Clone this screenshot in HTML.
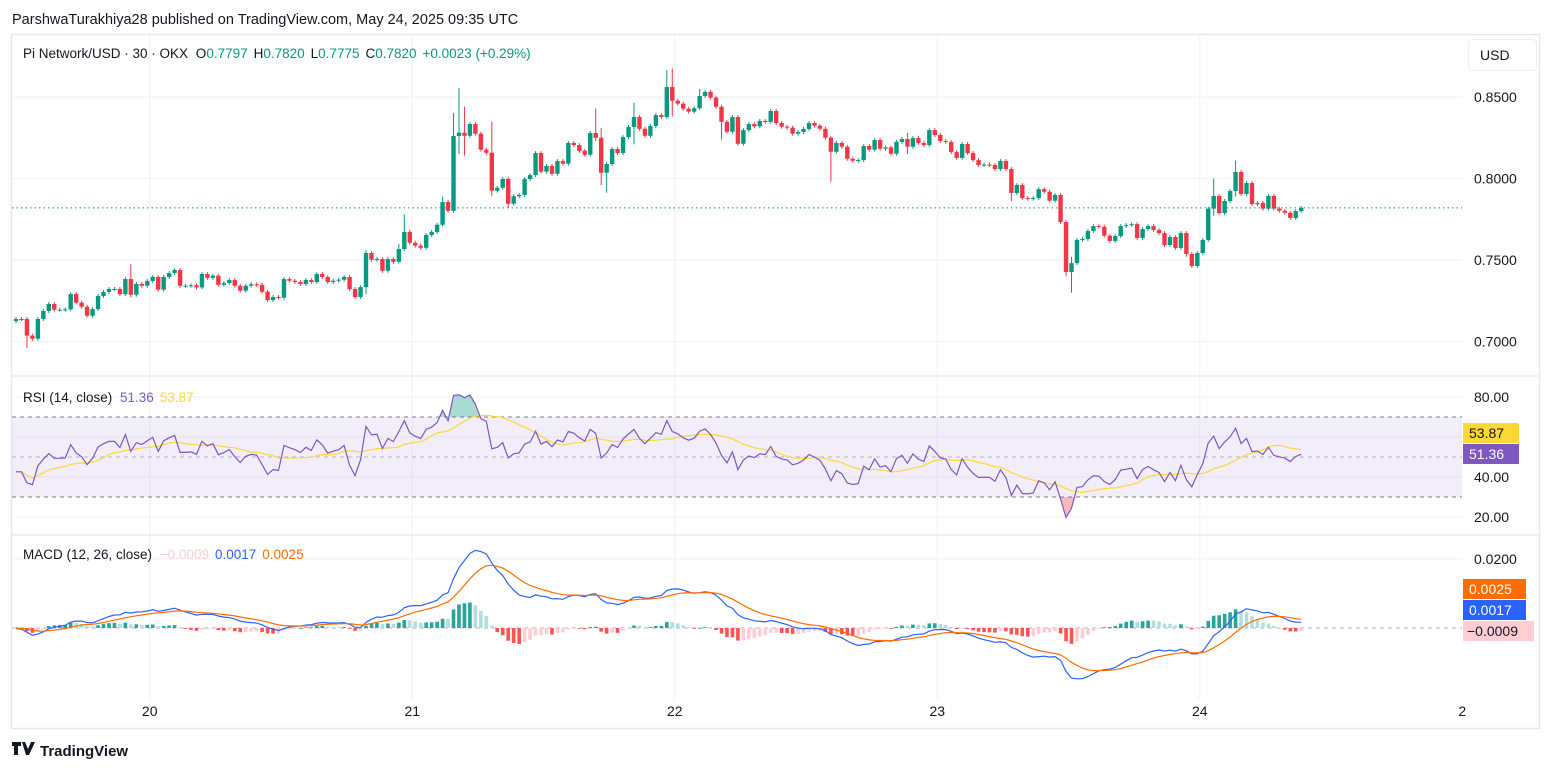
<!DOCTYPE html>
<html><head><meta charset="utf-8"><style>
html,body{margin:0;padding:0;background:#fff;width:1553px;height:772px;overflow:hidden;font-family:"Liberation Sans",sans-serif}
svg text{font-family:"Liberation Sans",sans-serif}
</style></head><body>
<svg id="chart" width="1553" height="772" viewBox="0 0 1553 772" xmlns="http://www.w3.org/2000/svg">
<text x="12" y="24" font-size="14.5" fill="#131722">ParshwaTurakhiya28 published on TradingView.com, May 24, 2025 09:35 UTC</text>
<rect x="11.5" y="34.5" width="1528" height="694" fill="#fff" stroke="#e8e8ea" stroke-width="1.5"/>
<g id="grid"></g>
<g id="price"></g>
<g id="rsi"></g>
<g id="macd"></g>
<line x1="12" y1="376" x2="1539" y2="376" stroke="#e0dcef" stroke-width="1"/>
<line x1="12" y1="535" x2="1539" y2="535" stroke="#e0dcef" stroke-width="1"/>
<text x="23" y="58" font-size="13.5" fill="#131722">Pi Network/USD · 30 · OKX <tspan dx="4">O</tspan><tspan fill="#089981">0.7797</tspan><tspan dx="6">H</tspan><tspan fill="#089981">0.7820</tspan><tspan dx="6">L</tspan><tspan fill="#089981">0.7775</tspan><tspan dx="6">C</tspan><tspan fill="#089981">0.7820</tspan><tspan dx="6" fill="#089981">+0.0023 (+0.29%)</tspan></text>
<rect x="1468.5" y="39.5" width="68" height="31" rx="4" fill="#fff" stroke="#eeeef0"/>
<text x="1480" y="60" font-size="14" fill="#131722">USD</text>
<text x="23" y="402" font-size="13.5" fill="#131722">RSI (14, close) <tspan dx="4" fill="#7e57c2">51.36</tspan><tspan dx="6" fill="#fdd835">53.87</tspan></text>
<text x="23" y="559" font-size="13.5" fill="#131722">MACD (12, 26, close) <tspan dx="4" fill="#ffcdd2">−0.0009</tspan><tspan dx="6" fill="#2962ff">0.0017</tspan><tspan dx="6" fill="#ff6d00">0.0025</tspan></text>
<g><rect x="1463" y="423" width="56" height="20" fill="#fdd835"/><text x="1469" y="438" font-size="14" fill="#131722">53.87</text></g>
<g><rect x="1463" y="444" width="56" height="20" fill="#7e57c2"/><text x="1469" y="459" font-size="14" fill="#fff">51.36</text></g>
<g><rect x="1463" y="579" width="63" height="20" fill="#ff6d00"/><text x="1469" y="594" font-size="14" fill="#fff">0.0025</text></g>
<g><rect x="1463" y="600" width="63" height="20" fill="#2962ff"/><text x="1469" y="615" font-size="14" fill="#fff">0.0017</text></g>
<g><rect x="1463" y="621" width="71" height="20" fill="#ffcdd2"/><text x="1467" y="636" font-size="14" fill="#131722">−0.0009</text></g>
<g><path d="M12 742h9v4h-3v9h-4v-9h-2zM22 742l3 0 3 7 3-7h4l-6 13h-3z" fill="#131722"/><text x="40" y="756" font-size="15" font-weight="bold" fill="#131722">TradingView</text></g>
</svg>
<script>
const closes=[.7138,.7138,.7036,.7017,.7138,.7187,.7230,.7195,.7195,.7197,.7291,.7238,.7213,.7158,.7199,.7279,.7304,.7322,.7322,.7290,
.7383,.7287,.7353,.7342,.7371,.7396,.7318,.7396,.7420,.7439,.7342,.7342,.7345,.7332,.7414,.7391,.7404,.7348,.7359,.7377,
.7342,.7312,.7342,.7351,.7348,.7305,.7254,.7273,.7269,.7383,.7373,.7365,.7353,.7377,.7365,.7414,.7396,.7365,.7373,.7379,
.7396,.7322,.7273,.7334,.7543,.7502,.7506,.7434,.7506,.7489,.7567,.7672,.7606,.7588,.7575,.7653,.7672,.7716,.7856,.7802,
.8261,.8281,.8262,.8334,.8275,.8177,.8158,.7925,.7943,.7997,.7845,.7891,.7899,.7997,.8021,.8156,.8042,.8077,.8029,.8107,
.8091,.8218,.8205,.8170,.8146,.8279,.8250,.8035,.8089,.8181,.8156,.8254,.8316,.8377,.8305,.8262,.8322,.8389,.8377,.8561,
.8477,.8459,.8428,.8410,.8431,.8506,.8531,.8496,.8440,.8348,.8287,.8377,.8213,.8297,.8334,.8320,.8353,.8347,.8414,.8340,
.8318,.8312,.8275,.8285,.8304,.8340,.8324,.8305,.8250,.8164,.8218,.8195,.8121,.8109,.8113,.8199,.8177,.8236,.8183,
.8191,.8152,.8224,.8242,.8195,.8248,.8218,.8205,.8297,.8267,.8230,.8224,.8162,.8126,.8212,.8156,.8113,.8083,.8085,.8083,
.8058,.8107,.8058,.7911,.7960,.7880,.7876,.7880,.7935,.7919,.7864,.7899,.7733,.7426,.7481,.7623,.7629,.7678,.7708,.7704,
.7649,.7617,.7647,.7708,.7714,.7720,.7635,.7690,.7708,.7684,.7665,.7592,.7641,.7574,.7665,.7537,.7463,.7543,.7623,.7815,
.7893,.7788,.7862,.7923,.8040,.7905,.7972,.7843,.7850,.7815,.7893,.7815,.7802,.7790,.7758,.7800,.7820];
const firstOpen=0.7125;
const wickIdx=[2,21,64,70,71,78,80,81,82,87,90,106,107,108,113,119,120,125,129,149,163,182,192,193,214,219,223];
const wickHigh=[.7060,.7475,.7560,.7600,.7780,.7890,.8402,.8555,.8440,.8350,.7850,.8430,.8310,.8100,.8465,.8664,.8675,.8550,.8380,.8250,.8280,.7960,.7733,.7520,.7620,.8000,.8110];
const wickLow=[.6960,.7270,.7290,.7500,.7580,.7760,.7800,.8150,.8140,.7890,.7820,.8230,.7960,.7913,.8210,.8370,.8380,.8420,.8240,.7980,.8150,.7860,.7400,.7300,.7520,.7770,.7890];
const priceTicks=[0.85,0.80,0.75,0.70];
const rsiTicks=[80,40,20];
const macdTicks=[0.02];
const dayLabels=["20","21","22","23","24","2"];
const dayIndex=[25,73,121,169,217,265];

const NS="http://www.w3.org/2000/svg";
function mk(tag,attrs,parent){const e=document.createElementNS(NS,tag);for(const k in attrs)e.setAttribute(k,attrs[k]);parent.appendChild(e);return e;}
const xOf=i=>16+i*5.469;
const yP=p=>97+(0.85-p)*1630;
const yR=r=>457-(r-50)*2;
const yM=m=>628-m*3450;
const G=document.getElementById('grid'),P=document.getElementById('price'),R=document.getElementById('rsi'),M=document.getElementById('macd'),S=document.getElementById('chart');

dayIndex.forEach((di,k)=>{
  const x=xOf(di)-3;
  if(x<1455){const l=mk('line',{x1:x,y1:35,x2:x,y2:700,stroke:'#f0f1f3','stroke-width':1},G);
  
  }
  const t=mk('text',{x:x,y:716,'font-size':14,fill:'#131722','text-anchor':'middle'},S);
  t.textContent=dayLabels[k];
  
  
});
priceTicks.forEach(p=>{
  const y=yP(p);
  const l=mk('line',{x1:12,y1:y,x2:1462,y2:y,stroke:'#f0f1f3'},G);
  
  
  const t=mk('text',{x:1474,y:y+5,'font-size':14,fill:'#131722'},S);
  t.textContent=p.toFixed(4);
  
  
});
[80,60,40,20].forEach(r=>{
  const l=mk('line',{x1:12,y1:yR(r),x2:1462,y2:yR(r),stroke:'#f0f1f3'},G);
  
  
});
rsiTicks.forEach(r=>{
  const t=mk('text',{x:1474,y:yR(r)+5,'font-size':14,fill:'#131722'},S);
  t.textContent=r.toFixed(2);
  
  
});
macdTicks.forEach(m=>{
  const l=mk('line',{x1:12,y1:yM(m),x2:1462,y2:yM(m),stroke:'#f0f1f3'},G);
  
  
  const t=mk('text',{x:1474,y:yM(m)+5,'font-size':14,fill:'#131722'},S);
  t.textContent=m.toFixed(4);
  
  
});

const N=closes.length;
for(let i=0;i<N;i++){
  const o=i===0?firstOpen:closes[i-1],c=closes[i];
  let hi=Math.max(o,c)+0.0012,lo=Math.min(o,c)-0.0012;
  const w=wickIdx.indexOf(i);
  if(w>=0){hi=Math.max(hi,wickHigh[w]);lo=Math.min(lo,wickLow[w]);}
  const col=c>=o?'#089981':'#f23645';
  const x=xOf(i);
  const g=mk('g',{},P);
  
  
  mk('line',{x1:x,y1:yP(hi),x2:x,y2:yP(lo),stroke:col,'stroke-width':1},g);
  const yt=yP(Math.max(o,c)),yb=yP(Math.min(o,c));
  mk('rect',{x:x-2.2,y:yt,width:4.4,height:Math.max(1,yb-yt),fill:col},g);
}
const lp=mk('line',{x1:12,y1:yP(closes[N-1]),x2:1462,y2:yP(closes[N-1]),stroke:'#089981','stroke-dasharray':'1.5 3','stroke-width':1},P);



const rsiVals=[];let ag=0,al=0;
for(let i=0;i<N;i++){
  const ch=i===0?closes[0]-firstOpen:closes[i]-closes[i-1];
  const g=Math.max(ch,0),l=Math.max(-ch,0);
  if(i===0){ag=0.0025;al=0.0035;}
  ag=(ag*13+g)/14;al=(al*13+l)/14;
  rsiVals.push(al===0?100:100-100/(1+ag/al));
}
const rsiMa=rsiVals.map((v,i)=>{const s=rsiVals.slice(Math.max(0,i-13),i+1);return s.reduce((a,b)=>a+b,0)/s.length;});
const band=mk('rect',{x:12,y:yR(70),width:1450,height:yR(30)-yR(70),fill:'#7e57c2','fill-opacity':0.1},R);


[70,50,30].forEach(r=>{
  const l=mk('line',{x1:12,y1:yR(r),x2:1462,y2:yR(r),stroke:r===50?'#b2b5be':'#787b86','stroke-dasharray':'4 4','stroke-width':1},R);
  
  
});
const rp=rsiVals.map((v,i)=>xOf(i).toFixed(1)+','+yR(v).toFixed(1)).join(' ');
const defs=mk('defs',{},S);
const c1=mk('clipPath',{id:'ob'},defs);mk('rect',{x:0,y:0,width:1553,height:yR(70)},c1);
const c2=mk('clipPath',{id:'os'},defs);mk('rect',{x:0,y:yR(30),width:1553,height:200},c2);
const obf=mk('polygon',{points:xOf(0)+','+yR(70)+' '+rp+' '+xOf(N-1)+','+yR(70),fill:'#089981','fill-opacity':0.35,'clip-path':'url(#ob)'},R);


const osf=mk('polygon',{points:xOf(0)+','+yR(30)+' '+rp+' '+xOf(N-1)+','+yR(30),fill:'#f23645','fill-opacity':0.35,'clip-path':'url(#os)'},R);


const rma=mk('polyline',{points:rsiMa.map((v,i)=>xOf(i).toFixed(1)+','+yR(v).toFixed(1)).join(' '),fill:'none',stroke:'#fdd835','stroke-width':1.2},R);


const rl=mk('polyline',{points:rp,fill:'none',stroke:'#7e57c2','stroke-width':1.2},R);



function ema(arr,n){const k=2/(n+1);const out=[];let e=arr[0];arr.forEach((v,i)=>{e=i===0?v:v*k+e*(1-k);out.push(e);});return out;}
const seed=[...Array(40).fill(0.7160),...closes];
const e12=ema(seed,12),e26=ema(seed,26);
const macdAll=e12.map((v,i)=>v-e26[i]);
const sigAll=ema(macdAll,9);
const macdV=macdAll.slice(40),sigV=sigAll.slice(40);
const hist=macdV.map((v,i)=>v-sigV[i]);
const zl=mk('line',{x1:12,y1:yM(0),x2:1462,y2:yM(0),stroke:'#b2b5be','stroke-dasharray':'4 4'},M);


hist.forEach((h,i)=>{
  const prev=i>0?hist[i-1]:h;
  let col;
  if(h>=0)col=h>=prev?'#26a69a':'#b2dfdb';else col=h<prev?'#ff5252':'#ffcdd2';
  const y0=yM(0),y1=yM(h);
  const b=mk('rect',{x:xOf(i)-1.8,y:Math.min(y0,y1),width:3.6,height:Math.max(0.8,Math.abs(y1-y0)),fill:col},M);
  
  
});
const ml=mk('polyline',{points:macdV.map((v,i)=>xOf(i).toFixed(1)+','+yM(v).toFixed(1)).join(' '),fill:'none',stroke:'#2962ff','stroke-width':1.2},M);


const sl=mk('polyline',{points:sigV.map((v,i)=>xOf(i).toFixed(1)+','+yM(v).toFixed(1)).join(' '),fill:'none',stroke:'#ff6d00','stroke-width':1.2},M);


</script>
</body></html>
